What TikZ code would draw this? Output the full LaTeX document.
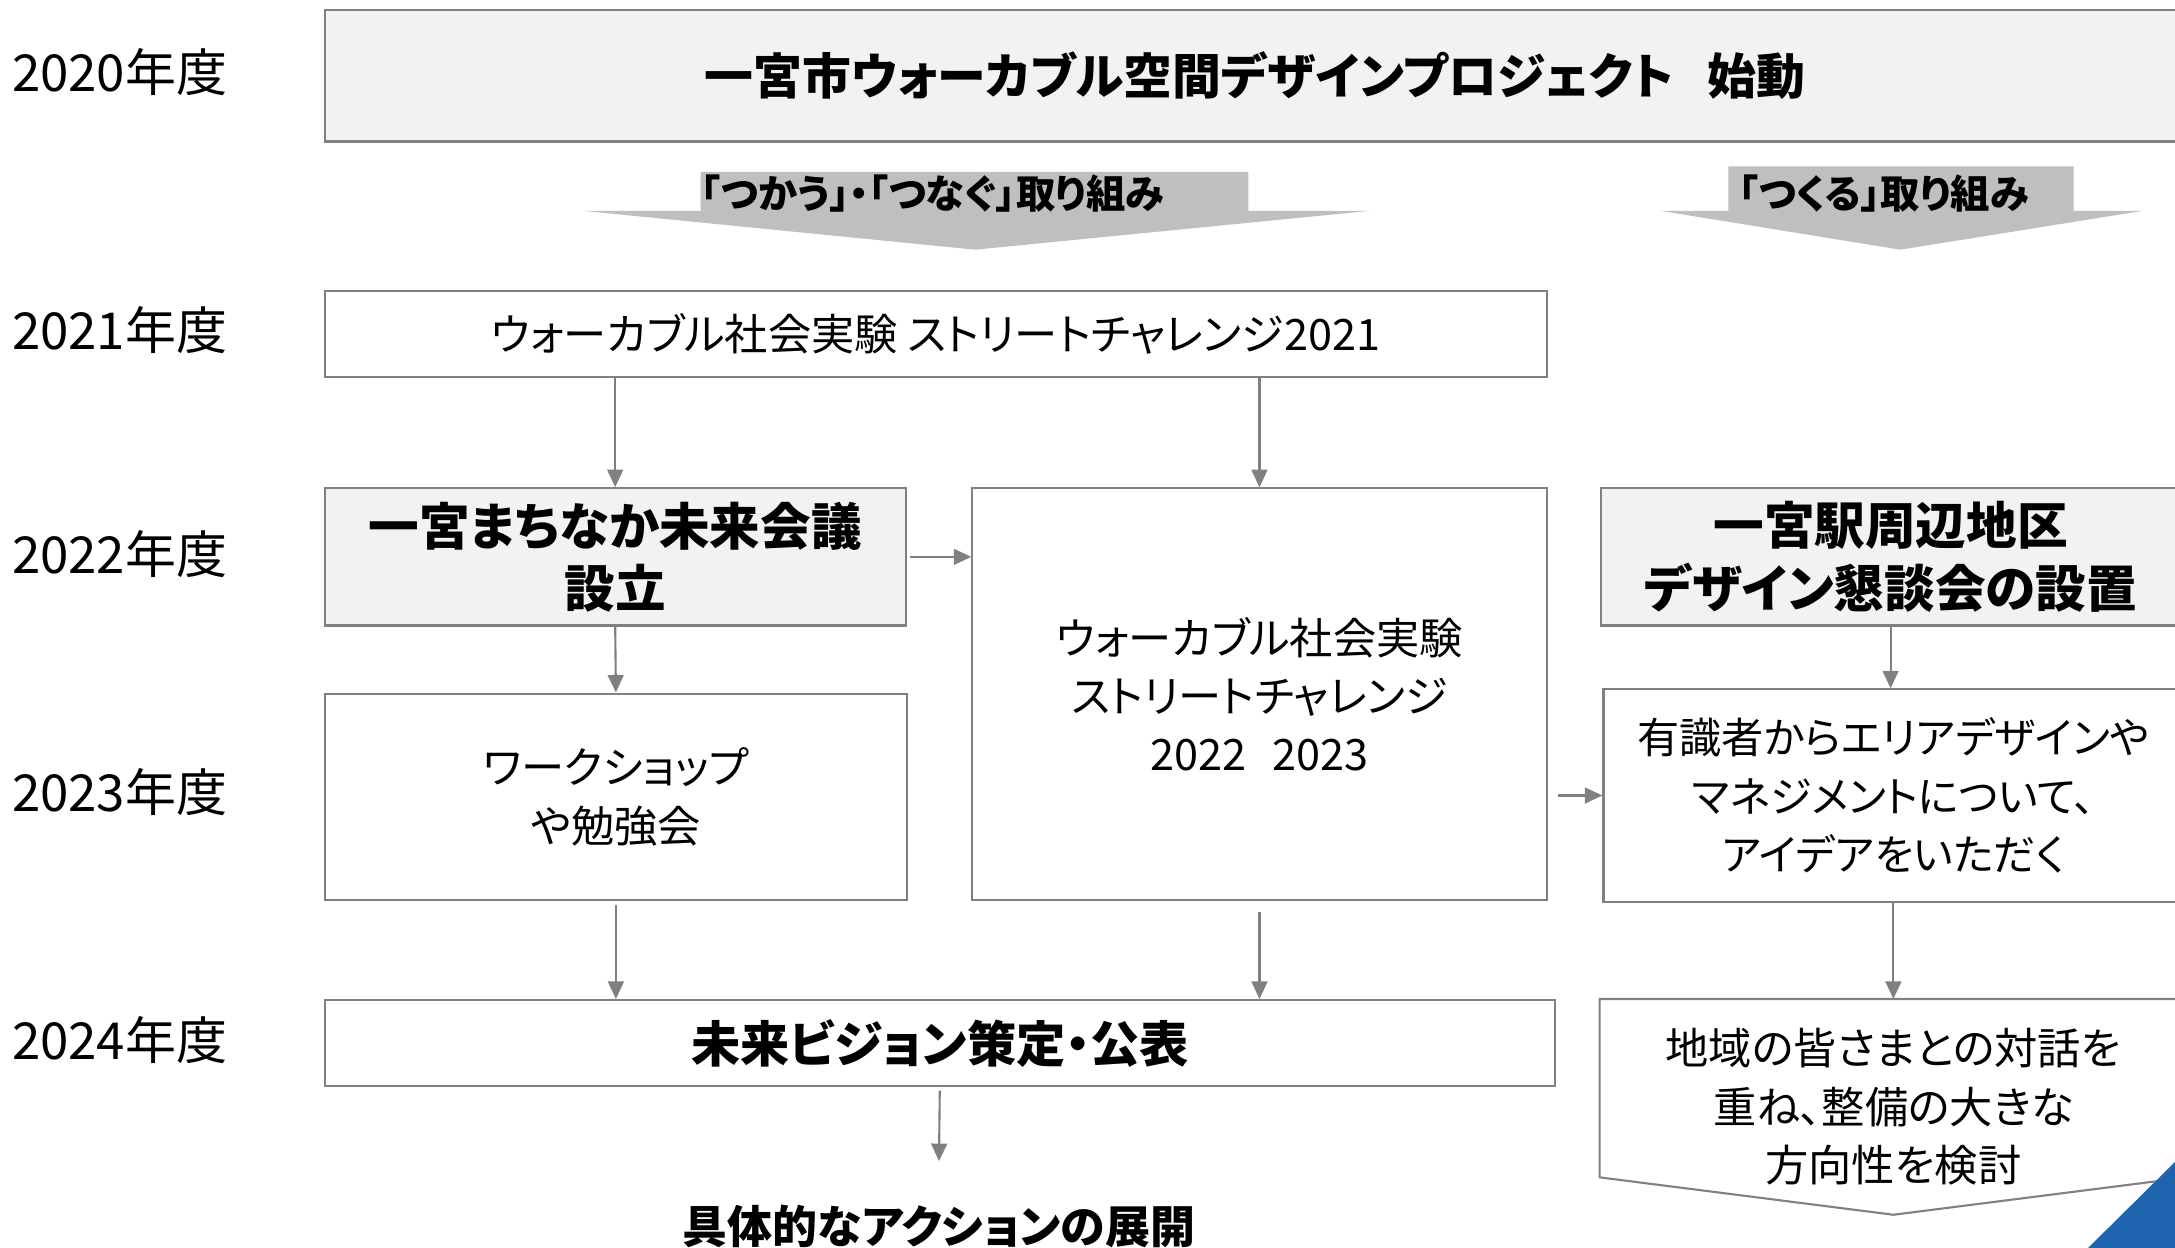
\documentclass[tikz,border=0pt]{standalone}
\usepackage{fontspec}
\setmainfont[RawFeature=+palt]{Noto Sans CJK JP}
\usetikzlibrary{arrows.meta,positioning}
\definecolor{boxgrey}{HTML}{F2F2F2}
\definecolor{linegrey}{HTML}{808080}
\definecolor{arrowgrey}{HTML}{BFBFBF}
\definecolor{cornerblue}{HTML}{1F64AF}

\begin{document}
\begin{tikzpicture}[-{Triangle[length=5pt,width=4.5pt]}, line width=0.6pt,
box/.style ={rectangle, draw=linegrey, fill=white, align=center, inner sep=0pt,
  font=\fontsize{12.3}{16.6}\selectfont},
greybox/.style ={box, fill=boxgrey, font=\bfseries\fontsize{14.4}{17.7}\selectfont},
year/.style ={anchor=west, inner sep=0pt, font=\fontsize{14.5}{17}\selectfont},
banner/.style ={anchor=west, inner sep=0pt, font=\bfseries\fontsize{11.2}{13}\selectfont}]
\useasboundingbox (0,0) rectangle (21.75,-12.48);

% year column
\node[year] (y2020) at (0.11,-0.72) {2020年度};
\node[year] (y2021) at (0.11,-3.30) {2021年度};
\node[year] (y2022) at (0.11,-5.54) {2022年度};
\node[year] (y2023) at (0.11,-7.92) {2023年度};
\node[year] (y2024) at (0.11,-10.40) {2024年度};

% big grey arrows
\fill[arrowgrey, -] (7.005,-1.72) -- (12.484,-1.72) -- (12.484,-2.108) -- (13.705,-2.108)
  -- (9.751,-2.497) -- (5.826,-2.108) -- (7.005,-2.108) -- cycle;
\fill[arrowgrey, -] (17.283,-1.665) -- (20.737,-1.665) -- (20.737,-2.108) -- (21.431,-2.108)
  -- (19.003,-2.497) -- (16.604,-2.108) -- (17.283,-2.108) -- cycle;
\node[banner] (use) at (7.0,-1.94) {「つかう」・「つなぐ」取り組み};
\node[banner] (make) at (17.38,-1.94) {「つくる」取り組み};

% boxes
\node[box, fill=boxgrey, minimum width=18.6cm, minimum height=1.318cm,
  font=\bfseries\fontsize{13.9}{16}\selectfont] (start) at (12.55,-0.756)
  {一宮市ウォーカブル空間デザインプロジェクト\hspace{0.7em}始動};
\node[box, minimum width=12.22cm, minimum height=0.86cm] (b2021) at (9.356,-3.343)
  {ウォーカブル社会実験 ストリートチャレンジ2021};
\node[greybox, minimum width=5.812cm, minimum height=1.373cm] (mirai) at (6.152,-5.569)
  {一宮まちなか未来会議\\設立};
\node[box, minimum width=5.742cm, minimum height=4.119cm] (st) at (12.595,-6.943)
  {ウォーカブル社会実験\\ストリートチャレンジ\\2022\hspace{0.6em}2023};
\node[greybox, minimum width=5.798cm, minimum height=1.373cm] (eki) at (18.906,-5.569)
  {一宮駅周辺地区\\デザイン懇談会の設置};
\node[box, minimum width=5.826cm, minimum height=2.066cm] (ws) at (6.159,-7.969)
  {ワークショップ\\や勉強会};
\node[box, minimum width=5.798cm, minimum height=2.122cm,
  font=\fontsize{12}{16.6}\selectfont] (yushiki) at (18.934,-7.955)
  {有識者からエリアデザインや\\マネジメントについて、\\アイデアをいただく};
\node[box, minimum width=12.303cm, minimum height=0.86cm,
  font=\bfseries\fontsize{14}{16}\selectfont] (vision) at (9.398,-10.431)
  {未来ビジョン策定・公表};
\node[box, draw=none, fill=none, minimum width=5.854cm, minimum height=2.136cm] (chiiki)
  at (18.934,-11.069) {地域の皆さまとの対話を\\重ね、整備の大きな\\方向性を検討};
\draw[linegrey, -] (chiiki.north west) -- (chiiki.north east)
  -- ([yshift=0.374cm]chiiki.south east) -- (chiiki.south)
  -- ([yshift=0.374cm]chiiki.south west) -- cycle;
\node[inner sep=0pt, minimum height=1.28cm, font=\bfseries\fontsize{12.8}{15}\selectfont]
  (final) at (9.39,-12.262) {具体的なアクションの展開};

% connectors
\path[linegrey]
(b2021.south -| mirai.north) edge (mirai.north)
(b2021.south -| st.north) edge (st.north)
(mirai.east) edge[shorten <=1pt] (mirai.east -| st.west)
(mirai.south) edge (ws.north)
(ws.south) edge[shorten <=1pt] (ws.south |- vision.north)
(st.south) edge[shorten <=3pt] (st.south |- vision.north)
(vision.south) edge[shorten <=1pt] (final.north)
(st.east |- yushiki.west) edge[shorten <=3pt] (yushiki.west)
(eki.south) edge (eki.south |- yushiki.north)
(yushiki.south) edge (yushiki.south |- chiiki.north);

% corner mark
\fill[cornerblue, -] (20.86,-12.50) -- (21.77,-11.60) -- (21.77,-12.50) -- cycle;
\end{tikzpicture}
\end{document}
